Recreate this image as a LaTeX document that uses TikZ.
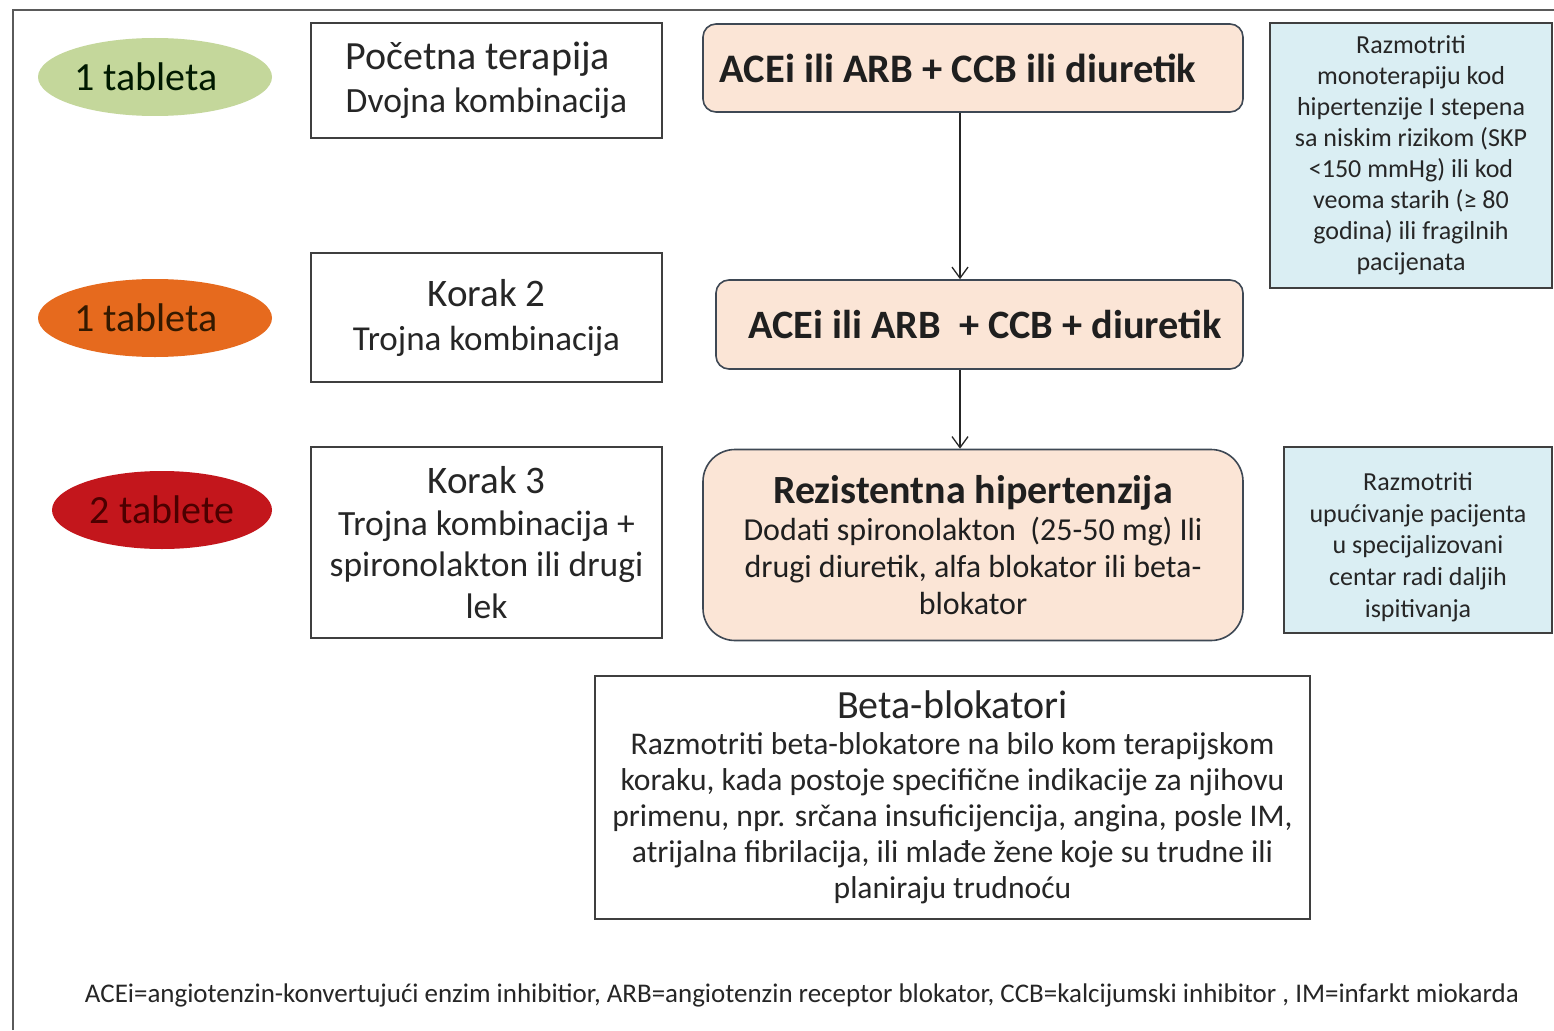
\documentclass[tikz,border=0pt]{standalone}
\usepackage{fontspec}
\setmainfont{Carlito}
\usetikzlibrary{shapes.geometric,arrows.meta}
\definecolor{framegray}{HTML}{5A5A5A}
\definecolor{boxline}{HTML}{3F3F3F}
\definecolor{txt}{HTML}{262626}
\definecolor{pgreen}{HTML}{C4D79B}
\definecolor{porange}{HTML}{E66A1E}
\definecolor{pred}{HTML}{C3161C}
\definecolor{peach}{HTML}{FBE5D6}
\definecolor{peachline}{HTML}{3E4854}
\definecolor{lblue}{HTML}{DAEEF3}
\tikzset{
  pill/.style={ellipse, draw=none, minimum width=234pt, minimum height=78pt, inner sep=0pt,
    font=\fontsize{40}{44}\selectfont},
  stepbox/.style={draw=boxline, line width=1.6pt, fill=white, minimum width=351pt, inner sep=0pt,
    align=center, text=txt},
  drugbox/.style={draw=peachline, line width=1.6pt, fill=peach, inner sep=0pt, align=center,
    text=black!88},
  notebox/.style={draw=boxline, line width=1.6pt, fill=lblue, inner sep=0pt, align=center,
    text=txt, font=\fontsize{26}{31}\selectfont},
  conn/.style={line width=1.3pt, draw=black!85, -{Straight Barb[length=11pt,width=16pt,line width=1.3pt]}},
}
\begin{document}
\begin{tikzpicture}[x=1pt,y=-1pt]
\useasboundingbox (0,0) rectangle (1554,1030);
\fill[white] (0,0) rectangle (1554,1030);
% outer frame (cropped)
\coordinate (fa) at (13,1030);
\coordinate (fb) at (13,10);
\coordinate (fc) at (1554,10);
\draw[framegray, line width=2pt] (fa) -- (fb) -- (fc);

% pills
\node[pill, fill=pgreen, text=black!75!green!40!black] (e1) at (155,77) {1 tableta\hspace*{18pt}};
\node[pill, fill=porange, text=black!80!orange] (e2) at (155,318) {1 tableta\hspace*{18pt}};
\node[pill, fill=pred, minimum width=220pt, text=black!70!red] (e3) at (162,510) {2 tablete};

% step boxes
\node[stepbox, minimum height=115pt, font=\fontsize{35.5}{43}\selectfont, align=left] (s1) at (486.5,80.5)
  {{\fontsize{40}{43}\selectfont Početna terapija}\\Dvojna kombinacija};
\node[stepbox, minimum height=129pt, font=\fontsize{35}{44}\selectfont] (s2) at (486.5,317.5)
  {{\fontsize{39}{44}\selectfont Korak 2}\\Trojna kombinacija};
\node[stepbox, minimum height=191pt, font=\fontsize{35.5}{41.5}\selectfont] (s3) at (486.5,542.5)
  {{\fontsize{39}{41.5}\selectfont Korak 3}\\Trojna kombinacija +\\spironolakton ili drugi\\lek};

% drug boxes
\node[drugbox, rounded corners=13pt, minimum width=540pt, minimum height=88pt,
  font=\fontsize{40.5}{44}\selectfont\bfseries] (d1) at (973,68)
  {ACEi ili ARB + CCB ili diuretik\hspace*{30pt}};
\node[drugbox, rounded corners=13pt, minimum width=527pt, minimum height=89pt,
  font=\fontsize{40.3}{44}\selectfont\bfseries] (d2) at (979.5,324.5)
  {\hspace*{11pt}ACEi ili ARB\ \ + CCB + diuretik};
\node[drugbox, rounded corners=32pt, minimum width=540pt, minimum height=191pt,
  font=\fontsize{32}{37}\selectfont] (d3) at (973,545)
  {{\fontsize{40}{43}\selectfont\bfseries Rezistentna hipertenzija}\\Dodati spironolakton\ \ (25-50 mg) Ili\\drugi diuretik, alfa blokator ili beta-\\blokator};

% connectors
\coordinate (ax) at (960,0);
\draw[conn] (d1.south -| ax) -- (d2.north -| ax);
\draw[conn] (d2.south -| ax) -- (d3.north -| ax);

% note boxes
\node[notebox, minimum width=282pt, minimum height=265pt] (n1) at (1411,155.5)
  {Razmotriti\\monoterapiju kod\\hipertenzije I stepena\\sa niskim rizikom (SKP\\<150 mmHg) ili kod\\veoma starih (≥ 80\\godina) ili fragilnih\\pacijenata};
\node[notebox, minimum width=268pt, minimum height=186pt] (n2) at (1418,540) {};
\node[text=txt, align=center, inner sep=0pt, font=\fontsize{26}{31.7}\selectfont] (n2t) at (1418,547)
  {Razmotriti\\upućivanje pacijenta\\u specijalizovani\\centar radi daljih\\ispitivanja};

% beta box
\node[stepbox, minimum width=715pt, minimum height=243pt, font=\fontsize{31.6}{36}\selectfont] (bb) at (952.5,797.5)
  {{\fontsize{40}{40}\selectfont Beta-blokatori}\\Razmotriti beta-blokatore na bilo kom terapijskom\\koraku, kada postoje specifične indikacije za njihovu\\primenu, npr. srčana insuficijencija, angina, posle IM,\\atrijalna fibrilacija, ili mlađe žene koje su trudne ili\\planiraju trudnoću};

% footnote
\node[text=txt, inner sep=0pt] (fn) at (802,995)
  {\resizebox{1434pt}{!}{\fontsize{21}{24}\selectfont ACEi=angiotenzin-konvertujući enzim inhibitior, ARB=angiotenzin receptor blokator, CCB=kalcijumski inhibitor , IM=infarkt miokarda}};
\end{tikzpicture}
\end{document}
